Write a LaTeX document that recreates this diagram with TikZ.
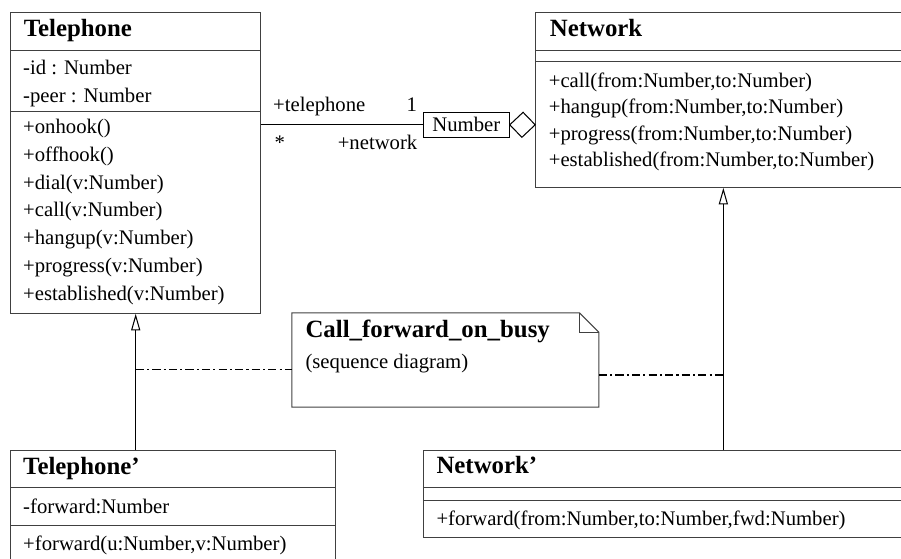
\documentclass[tikz,border=0pt]{standalone}
\usepackage{fontspec}
\setmainfont{Liberation Serif}
\usepackage{tikz}
\usetikzlibrary{arrows.meta,fit,calc}

\begin{document}
\begin{tikzpicture}[x=0.483pt,y=-0.483pt,line width=0.5pt,
    box/.style={draw=black!75,inner sep=0pt},
    row/.style={anchor=west,inner sep=0pt,text height=1.5ex,text depth=.25ex,font=\fontsize{10}{12}\selectfont},
    ttl/.style={row,font=\fontsize{12}{14}\selectfont\bfseries},
    gen/.style={-{Triangle[open,length=8pt,width=4.4pt]}},
    trace/.style={dash pattern=on 4pt off 1.5pt on 1pt off 1.5pt}]
            \useasboundingbox (0,0) rectangle (901,558);
            % classes
            \node[box,fit={(10.7,12.7) (260.7,313.3)}] (tel) {};
            \node[box,fit={(535.7,12.7) (911,187.3)}] (net) {};
            \node[box,fit={(10.7,450.7) (335.7,575)}] (telx) {};
            \node[box,fit={(423.3,450.7) (915,537.7)}] (netx) {};
            \draw[black!75] ($(tel.north west)+(0,38)$) -- ($(tel.north east)+(0,38)$);
            \draw[black!75] ($(tel.north west)+(0,99.6)$) -- ($(tel.north east)+(0,99.6)$);
            \draw[black!75] ($(net.north west)+(0,38)$) -- ($(net.north east)+(0,38)$);
            \draw[black!75] ($(net.north west)+(0,49.6)$) -- ($(net.north east)+(0,49.6)$);
            \draw[black!75] ($(telx.north west)+(0,37.6)$) -- ($(telx.north east)+(0,37.6)$);
            \draw[black!75] ($(telx.north west)+(0,75)$) -- ($(telx.north east)+(0,75)$);
            \draw[black!75] ($(netx.north west)+(0,37.6)$) -- ($(netx.north east)+(0,37.6)$);
            \draw[black!75] ($(netx.north west)+(0,50)$) -- ($(netx.north east)+(0,50)$);
            % Telephone
            \node[ttl] (telname) at (23.3,30.7) {Telephone};
            \node[row] (telid) at (22.7,69) {-id : Number};
            \node[row] (telpeer) at (22.7,96.7) {-peer : Number};
            \node[row] (telon) at (22.7,128) {+onhook()};
            \node[row] (teloff) at (22.7,155.7) {+offhook()};
            \node[row] (teldial) at (22.7,183.4) {+dial(v:Number)};
            \node[row] (telcall) at (22.7,211) {+call(v:Number)};
            \node[row] (telhang) at (22.7,238.8) {+hangup(v:Number)};
            \node[row] (telprog) at (22.7,266.5) {+progress(v:Number)};
            \node[row] (telest) at (22.7,294.2) {+established(v:Number)};
            % Network
            \node[ttl] (netname) at (549.3,30.7) {Network};
            \node[row] (netcall) at (548.3,81.5) {+call(from:Number,to:Number)};
            \node[row] (nethang) at (548.3,108) {+hangup(from:Number,to:Number)};
            \node[row] (netprog) at (548.3,134.5) {+progress(from:Number,to:Number)};
            \node[row] (netest) at (548.3,161) {+established(from:Number,to:Number)};
            % Telephone' and Network'
            \node[ttl] (telxname) at (22.7,469) {Telephone'};
            \node[row] (telxfwd) at (22.7,507.3) {-forward:Number};
            \node[row] (telxop) at (22.7,545) {+forward(u:Number,v:Number)};
            \node[ttl] (netxname) at (436,468) {Network'};
            \node[row] (netxop) at (436,520) {+forward(from:Number,to:Number,fwd:Number)};
            % qualified association
            \node[draw,inner sep=0pt,minimum width=41.5pt,minimum height=12.1pt,font=\fontsize{10}{12}\selectfont] (num) at (466.3,124.8) {Number};
            \draw (tel.east |- num.west) -- (num.west);
            \draw (num.east) -- ++(13.3,-12.5) -- (net.west |- num.east) -- ++(-13.3,12.5) -- cycle;
            \node[row] (roletel) at (272.7,106) {+telephone};
            \node[row,anchor=center] (multone) at (411.7,106) {1};
            \node[row] (multmany) at (274,144) {*};
            \node[row] (rolenet) at (337.3,144) {+network};
            % generalizations
            \draw[gen] (tel.south |- telx.north) -- (tel.south);
            \draw[gen] (net.south |- netx.north) -- (net.south);
            % note
            \node[fit={(292.3,313.3) (598.3,406.7)},inner sep=0pt] (note) {};
            \draw[black!75] (note.north west) -- ($(note.north east)+(-19.5,0)$) -- ($(note.north east)+(0,19.5)$) -- (note.south east) -- (note.south west) -- cycle;
            \draw[black!75] ($(note.north east)+(-19.5,0)$) |- ($(note.north east)+(0,19.5)$);
            \node[ttl] (notename) at (305,331.7) {Call\_forward\_on\_busy};
            \node[row] (notekind) at (305,363) {(sequence diagram)};
            \coordinate (ltrace) at (tel.south |- 0,369.3);
            \coordinate (rtrace) at (net.south |- 0,375);
            \draw[trace] (ltrace) -- (note.west |- ltrace);
            \draw[trace] (note.east |- rtrace) -- (rtrace);
        \end{tikzpicture}
\end{document}
